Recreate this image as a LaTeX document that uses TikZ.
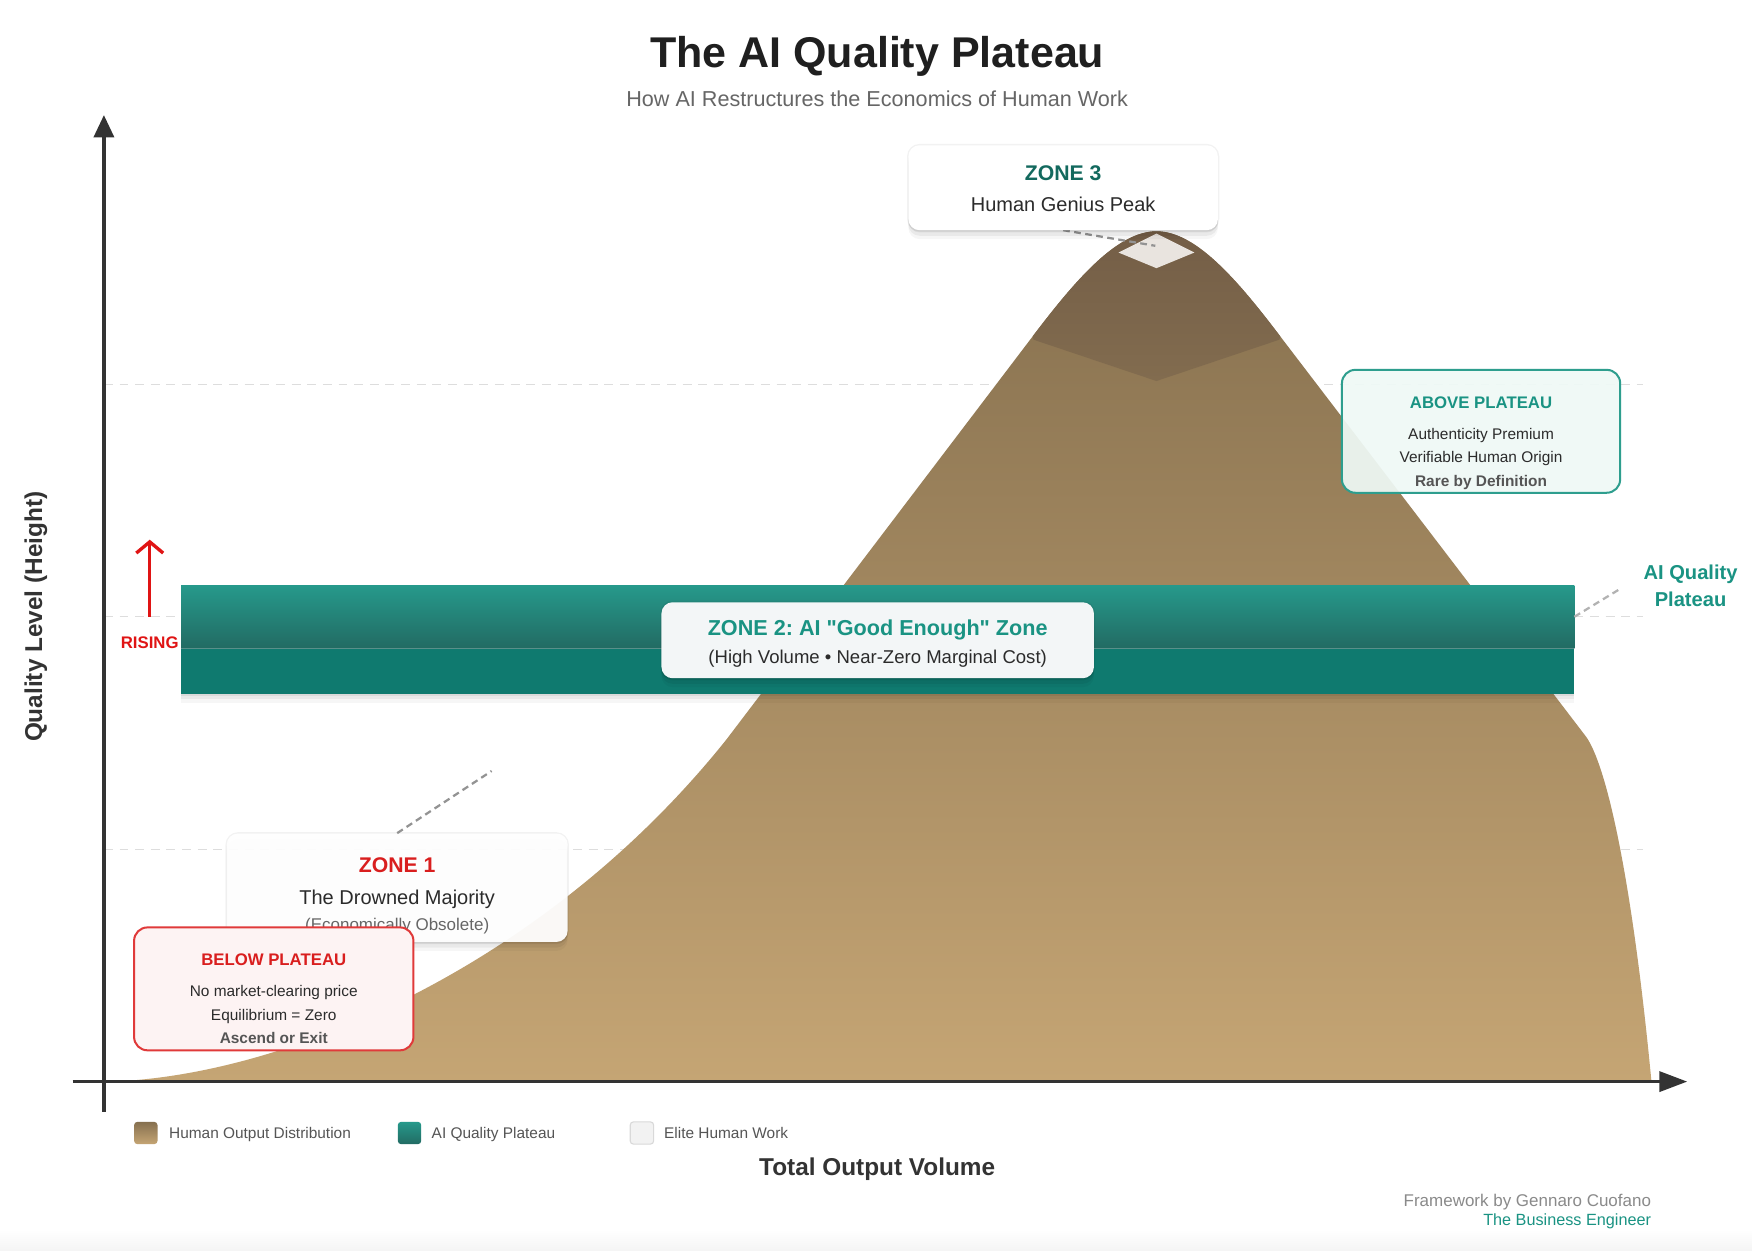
\documentclass[tikz,border=0pt]{standalone}
\usepackage{fontspec}
\setmainfont{Liberation Sans}[Ligatures=TeXOff]
\usetikzlibrary{arrows.meta,shadows}
\definecolor{tealT}{HTML}{1A9383}
\definecolor{tealD}{HTML}{13695E}
\definecolor{redT}{HTML}{D91E1E}
\definecolor{darkT}{HTML}{2B2B2B}
\definecolor{midT}{HTML}{555555}
\definecolor{subT}{HTML}{666666}
\definecolor{footT}{HTML}{8A8A8A}
\definecolor{axisC}{HTML}{333333}
\definecolor{gridC}{HTML}{DDDDDD}
\definecolor{mtnTop}{HTML}{86704F}
\definecolor{mtnBot}{HTML}{C5A574}
\definecolor{capTop}{HTML}{735D46}
\definecolor{capBot}{HTML}{826C4F}
\definecolor{bandTop}{HTML}{26998B}
\definecolor{bandMid}{HTML}{226B63}
\definecolor{bandBot}{HTML}{0F7A6F}
\definecolor{eliteC}{HTML}{E9E4DF}
\definecolor{aboveFill}{HTML}{EFF9F6}
\definecolor{aboveLine}{HTML}{2E9E8E}
\definecolor{belowFill}{HTML}{FDF3F3}
\definecolor{belowLine}{HTML}{E03A3A}
\definecolor{zTwoFill}{HTML}{F3F6F7}
\definecolor{risingC}{HTML}{E01414}
\newcommand\fsz[1]{\fontsize{#1}{#1}\selectfont}
\begin{document}
\frenchspacing
\begin{tikzpicture}[x=0.5pt,y=-0.5pt,
  txt/.style={inner sep=0pt, anchor=base},
  softshadow/.style={
    drop shadow={shadow xshift=0pt, shadow yshift=-1pt, opacity=.06, fill=black},
    drop shadow={shadow xshift=0pt, shadow yshift=-2.5pt, opacity=.05, fill=black},
    drop shadow={shadow xshift=0pt, shadow yshift=-4pt, opacity=.035, fill=black}},
  card/.style={rounded corners=5pt, inner sep=0pt, softshadow,
    preaction={draw=black, draw opacity=0.05, line width=1.2pt}},
  gridln/.style={gridC, line width=0.6pt, dash pattern=on 4pt off 3pt},
  leader/.style={draw=gray!85, line width=1pt, dash pattern=on 3pt off 2pt},
  axis/.style={axisC, line width=1.5pt},
  swatch/.style={minimum width=10.5pt, minimum height=10pt, inner sep=0pt, rounded corners=1.5pt},
]
\fill[white] (0,0) rectangle (1568,1119);
\useasboundingbox (0,0) rectangle (1568,1119);
\shade[top color=white, bottom color=black!4] (0,1100) rectangle (1568,1119);

% title
\node[txt, font=\fsz{19.25}\bfseries, text=black!88] (title) at (785,60.8) {The AI Quality Plateau};
\node[txt, font=\fsz{9.67}, text=subT] (subtitle) at (785,95) {How AI Restructures the Economics of Human Work};

% grid lines
\coordinate (g1a) at (93,344); \coordinate (g1b) at (1470,344);
\coordinate (g2a) at (93,552); \coordinate (g2b) at (1470,552);
\coordinate (g3a) at (93,760); \coordinate (g3b) at (1470,760);
\draw[gridln] (g1a) -- (g1b);
\draw[gridln] (g2a) -- (g2b);
\draw[gridln] (g3a) -- (g3b);

% mountain
\path[top color=mtnTop, bottom color=mtnBot]
  (100,968) .. controls (260,962) and (490,862) .. (650,662) -- (925,300)
  .. controls (963,250) and (1000,207) .. (1035,207)
  .. controls (1070,207) and (1107,250) .. (1145,300) -- (1420,660)
  .. controls (1440,690) and (1462,800) .. (1478,968) -- cycle;
\begin{scope}
  \clip (100,968) .. controls (260,962) and (490,862) .. (650,662) -- (925,300)
  .. controls (963,250) and (1000,207) .. (1035,207)
  .. controls (1070,207) and (1107,250) .. (1145,300) -- (1420,660)
  .. controls (1440,690) and (1462,800) .. (1478,968) -- cycle;
  \shade[top color=capTop, bottom color=capBot] (900,200) -- (1175,200) -- (1145,304) -- (1035,341) -- (925,304) -- cycle;
\end{scope}
\fill[eliteC] (1001,226) -- (1035,209) -- (1069,226) -- (1035,240) -- cycle;
\coordinate (peak) at (1034,220);

% AI plateau band
\node[inner sep=0pt, minimum width=623.5pt, minimum height=48.5pt, fill=bandBot, softshadow]
  (band) at (785.5,572.5) {};
\shade[top color=bandTop, bottom color=bandMid] (162,524) rectangle (1409,580);
\draw[white, opacity=0.25, line width=0.5pt] (162,580) -- (1409,580);

% AI quality plateau label
\node[txt, font=\fsz{9}\bfseries, text=tealT] (aiq1) at (1513,518.4) {AI Quality};
\node[txt, font=\fsz{9}\bfseries, text=tealT] (aiq2) at (1513,542.4) {Plateau};
\coordinate (bandR) at (1409,552);
\coordinate (aiqEnd) at (1450,527);
\draw[leader, draw=gray!60] (bandR) -- (aiqEnd);

% rising arrow
\coordinate (rs0) at (134,552);
\coordinate (rs1) at (134,483);
\draw[risingC, line width=1.5pt, -{Straight Barb[length=5pt,width=12pt]}] (rs0) -- (rs1);
\node[txt, font=\fsz{7.5}\bfseries, text=risingC] (rising) at (134,580.4) {RISING};

% zone 2 card
\node[card, fill=zTwoFill, minimum width=193.5pt, minimum height=34pt] (zone2) at (785.5,573) {};
\node[txt, font=\fsz{9.67}\bfseries, text=tealT] (z2t) at (785.5,569) {ZONE 2: AI "Good Enough" Zone};
\node[txt, font=\fsz{8.3}, text=darkT] (z2s) at (785.5,594) {(High Volume • Near-Zero Marginal Cost)};

% zone 3 card
\draw[leader] (951.5,206) -- (peak);
\node[card, fill=white, minimum width=138.5pt, minimum height=38pt] (zone3) at (951.5,168) {};
\node[txt, font=\fsz{9.5}\bfseries, text=tealD] (z3t) at (951.5,161.8) {ZONE 3};
\node[txt, font=\fsz{8.95}, text=darkT] (z3s) at (951.5,189.4) {Human Genius Peak};

% above plateau card
\node[draw=aboveLine, line width=0.9pt, fill=aboveFill, fill opacity=0.93, rounded corners=6pt,
  inner sep=0pt, minimum width=124.5pt, minimum height=55pt] (above) at (1325.5,386) {};
\node[txt, font=\fsz{7.5}\bfseries, text=tealT] (abt) at (1325.5,365.4) {ABOVE PLATEAU};
\node[txt, font=\fsz{6.9}, text=darkT] (ab1) at (1325.5,393) {Authenticity Premium};
\node[txt, font=\fsz{6.9}, text=darkT] (ab2) at (1325.5,414) {Verifiable Human Origin};
\node[txt, font=\fsz{6.9}\bfseries, text=midT] (ab3) at (1325.5,435) {Rare by Definition};

% zone 1 card
\coordinate (z1end) at (440,690);
\node[card, fill=white, fill opacity=0.95, minimum width=152.5pt, minimum height=48.5pt] (zone1) at (355.5,794.5) {};
\draw[leader] (zone1.north) -- (z1end);
\node[txt, font=\fsz{9.5}\bfseries, text=redT] (z1t) at (355.5,780.8) {ZONE 1};
\node[txt, font=\fsz{8.95}, text=darkT] (z1s) at (355.5,809.4) {The Drowned Majority};
\node[txt, font=\fsz{7.6}, text=subT] (z1n) at (355.5,832.4) {(Economically Obsolete)};

% below plateau card
\node[draw=belowLine, line width=0.9pt, fill=belowFill, rounded corners=6pt,
  inner sep=0pt, minimum width=125pt, minimum height=55pt] (below) at (245,885) {};
\node[txt, font=\fsz{7.5}\bfseries, text=redT] (bet) at (245,864.4) {BELOW PLATEAU};
\node[txt, font=\fsz{6.9}, text=darkT] (be1) at (245,892) {No market-clearing price};
\node[txt, font=\fsz{6.9}, text=darkT] (be2) at (245,913) {Equilibrium = Zero};
\node[txt, font=\fsz{6.9}\bfseries, text=midT] (be3) at (245,934) {Ascend or Exit};

% axes
\coordinate (ybot) at (93,995);
\coordinate (ytop) at (93,103);
\coordinate (xl) at (65,968);
\coordinate (xr) at (1510,968);
\draw[axis, -{Triangle[length=10pt,width=9pt]}] (ybot) -- (ytop);
\draw[axis, -{Triangle[length=12.5pt,width=9pt]}] (xl) -- (xr);
\node[txt, rotate=90, font=\fsz{10.9}\bfseries, text=axisC] (ylab) at (37.8,552) {Quality Level (Height)};
\node[txt, font=\fsz{10.9}\bfseries, text=axisC] (xlab) at (785,1051.8) {Total Output Volume};

% legend
\node[swatch, top color=mtnTop, bottom color=mtnBot] (lg1) at (130.5,1014) {};
\node[txt, anchor=base west, font=\fsz{6.9}, text=midT] (lg1t) at (151,1019) {Human Output Distribution};
\node[swatch, top color=bandTop, bottom color=bandMid] (lg2) at (366.5,1014) {};
\node[txt, anchor=base west, font=\fsz{6.9}, text=midT] (lg2t) at (386,1019) {AI Quality Plateau};
\node[swatch, fill=black!5, draw=black!15, line width=0.5pt] (lg3) at (574.5,1014) {};
\node[txt, anchor=base west, font=\fsz{6.9}, text=midT] (lg3t) at (594,1019) {Elite Human Work};

% footer
\node[txt, anchor=base east, font=\fsz{7.6}, text=footT] (ft1) at (1478,1079.4) {Framework by Gennaro Cuofano};
\node[txt, anchor=base east, font=\fsz{7.26}, text=tealT] (ft2) at (1478,1097) {The Business Engineer};
\end{tikzpicture}
\end{document}
